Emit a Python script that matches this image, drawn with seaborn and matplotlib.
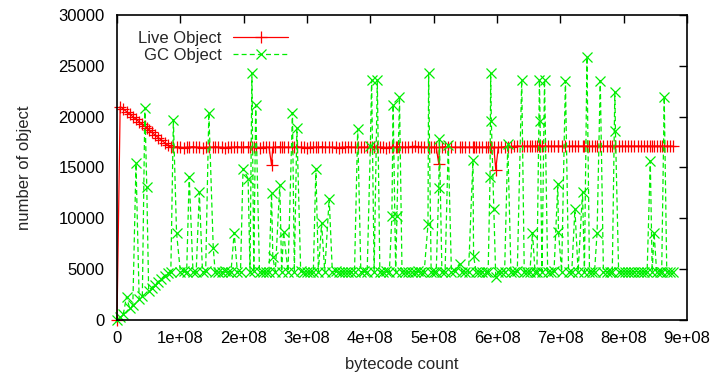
import matplotlib
matplotlib.use("Agg")
import matplotlib.pyplot as plt
import seaborn as sns
import pandas as pd

# bytecode count in units of 1e6 (rows of 10 aligned across the three lists)
bytecode_m = [
    0, 5, 10, 15, 20, 25, 30, 35, 40, 44,
    47, 50, 55, 60, 65, 70, 75, 80, 85,
    89, 94, 100, 105, 110, 114, 120, 125, 130, 135,
    140, 145, 152, 155, 160, 165, 170, 175, 180, 185,
    190, 195, 199, 207, 210, 213, 216, 219, 225, 230,
    235, 240, 244, 246, 250, 257, 260, 263, 270, 277,
    280, 284, 290, 295, 300, 305, 310, 314, 318, 323,
    328, 335, 340, 345, 350, 355, 360, 365, 370, 375,
    380, 385, 390, 395, 400, 402, 406, 411, 415, 420,
    425, 430, 434, 436, 440, 442, 446, 450, 455, 460,
    465, 470, 475, 480, 485, 491, 492, 496, 500, 504,
    508, 509, 513, 518, 523, 528, 533, 541, 545, 550,
    555, 562, 563, 567, 572, 577, 582, 586, 589, 590,
    591, 595, 598, 602, 607, 612, 617, 622, 627, 632,
    639, 643, 648, 652, 656, 660, 663, 667, 668, 671,
    675, 680, 685, 690, 696, 697, 702, 708, 713, 718,
    723, 728, 735, 738, 742, 746, 750, 754, 758, 763,
    768, 773, 778, 782, 786, 787, 792, 797, 802, 807,
    812, 817, 822, 827, 832, 837, 842, 845, 848, 852,
    857, 860, 864, 868, 873, 878]

live_object = [
    0, 21000, 20750, 20500, 20250, 20000, 19750, 19500, 19250, 19050,
    18900, 18700, 18450, 18200, 17950, 17700, 17450, 17200, 17000,
    17000, 17050, 17000, 16950, 17000, 17000, 17050, 17000, 17000, 16950,
    17000, 17000, 17000, 17050, 17000, 17000, 16950, 17000, 17000, 17000,
    17050, 17000, 17000, 17050, 17000, 17000, 17000, 17000, 16950, 17000,
    17000, 17000, 15250, 17000, 17000, 17050, 17000, 17000, 17000, 17000,
    17000, 17050, 17000, 17000, 16950, 17000, 17000, 17000, 17000, 17050,
    17000, 17000, 17000, 17000, 16950, 17000, 17000, 17050, 17000, 17000,
    17000, 17000, 17000, 17000, 17000, 17000, 17050, 17000, 17000, 17000,
    16950, 17000, 17000, 17000, 17000, 17000, 17050, 17000, 17000, 17000,
    17000, 17100, 17000, 17000, 17000, 17000, 17000, 17000, 17000, 17000,
    15350, 17000, 17000, 17050, 17000, 17000, 17000, 17000, 17000, 17000,
    17000, 17000, 17050, 17000, 17000, 17000, 17000, 17000, 17000, 17000,
    17000, 17000, 14800, 17000, 17000, 17050, 17000, 17050, 17100, 17100,
    17100, 17100, 17100, 17100, 17100, 17100, 17100, 17100, 17100, 17100,
    17100, 17100, 17100, 17100, 17100, 17100, 17100, 17100, 17100, 17100,
    17100, 17100, 17100, 17100, 17100, 17100, 17100, 17100, 17100, 17100,
    17100, 17100, 17100, 17100, 17100, 17100, 17100, 17100, 17100, 17100,
    17100, 17100, 17100, 17100, 17100, 17100, 17100, 17100, 17100, 17100,
    17100, 17100, 17100, 17100, 17100, 17100]

gc_object = [
    0, 290, 580, 2300, 1160, 1450, 15400, 2030, 2320, 20900,
    13100, 2900, 3190, 3480, 3770, 4060, 4350, 4640, 4750,
    19700, 8600, 4750, 4800, 4750, 14100, 4750, 4700, 12550, 4750,
    4800, 20400, 7050, 4750, 4750, 4700, 4800, 4750, 4750, 8600,
    4750, 4750, 14900, 13900, 4750, 24250, 4800, 21150, 4750, 4750,
    4700, 4750, 12500, 6200, 4750, 13300, 4750, 8700, 4750, 20400,
    4750, 18850, 4800, 4750, 4750, 4700, 4750, 14900, 4750, 9500,
    4750, 11950, 4750, 4800, 4750, 4750, 4700, 4750, 4750, 4750,
    18800, 4750, 4800, 4750, 17100, 23600, 4750, 23600, 4750, 4750,
    4800, 4750, 10200, 21150, 4750, 10200, 21950, 4750, 4750, 4700,
    4750, 4750, 4800, 4750, 4750, 9400, 24250, 4750, 4750, 4750,
    13000, 17800, 4750, 4750, 17200, 4750, 4800, 5550, 4750, 4750,
    4700, 15700, 6300, 4750, 4750, 4750, 4750, 4750, 14100, 24250,
    19600, 10950, 4200, 4750, 4750, 4750, 17300, 4750, 4750, 4800,
    23600, 4750, 4750, 4750, 8600, 4750, 4750, 23600, 19600, 4750,
    23600, 4750, 4750, 4800, 13400, 8700, 4750, 23550, 4750, 4750,
    10900, 4750, 12550, 4750, 25900, 4750, 4750, 4750, 8600, 23550,
    4750, 4750, 4750, 4750, 22400, 18550, 4750, 4750, 4750, 4750,
    4750, 4750, 4750, 4750, 4750, 4750, 15650, 4750, 8600, 4750,
    4750, 4750, 21950, 4750, 4750, 4750]

x_ticks = [0, 1e8, 2e8, 3e8, 4e8, 5e8, 6e8, 7e8, 8e8, 9e8]
x_tick_labels = ["0", "1e+08", "2e+08", "3e+08", "4e+08", "5e+08", "6e+08", "7e+08", "8e+08", "9e+08"]
y_ticks = [0, 5000, 10000, 15000, 20000, 25000, 30000]
y_tick_labels = ["0", "5000", "10000", "15000", "20000", "25000", "30000"]

df = pd.DataFrame({"x": [v * 1e6 for v in bytecode_m],
                   "live": live_object, "gc": gc_object})

sns.set_style("white")
plt.rcParams["font.family"] = ["Liberation Sans", "DejaVu Sans"]

fig = plt.figure(figsize=(7.2, 3.79), dpi=100)
ax = fig.add_axes([0.1625, 0.1557, 0.7917, 0.8047])

RED = "#ff0000"
GREEN = "#00ee00"
sns.lineplot(data=df, x="x", y="live", ax=ax, color=RED, estimator=None, sort=False,
             label="Live Object")
sns.lineplot(data=df, x="x", y="gc", ax=ax, color=GREEN, estimator=None, sort=False,
             label="GC Object")

styles = [("+", 8, "-"), ("x", 7, "--")]
for line, col, (mk, ms, ls) in zip(ax.lines[:2], [RED, GREEN], styles):
    line.set_linestyle(ls)
    line.set_linewidth(0.9)
    line.set_color(col)
    line.set_marker(mk)
    line.set_markersize(ms)
    line.set_markeredgewidth(0.9)
    line.set_markeredgecolor(col)
    line.set_markerfacecolor(col)
    line.set_clip_on(False)
ax.lines[1].set_dashes((4, 2.5))

ax.set_xlim(0, 9e8)
ax.set_ylim(0, 30000)
ax.set_xticks(x_ticks)
ax.set_xticklabels(x_tick_labels)
ax.set_yticks(y_ticks)
ax.set_yticklabels(y_tick_labels)
ax.tick_params(axis="both", direction="in", length=6, width=1, top=True, right=True,
               labelsize=12, colors="black")
ax.tick_params(axis="x", pad=8)
ax.tick_params(axis="y", pad=9)
for s in ax.spines.values():
    s.set_visible(True)
    s.set_color("black")
    s.set_linewidth(1.2)

ax.set_xlabel("bytecode count", fontsize=12, labelpad=8)
ax.set_ylabel("number of object", fontsize=12, labelpad=19)

leg = ax.legend(loc="upper left", bbox_to_anchor=(0.02, 0.98), frameon=False, fontsize=12,
                markerfirst=False, handlelength=3.3, handletextpad=0.7, labelspacing=0.12,
                numpoints=1, borderaxespad=0.2)
for h, col, (mk, ms, ls) in zip(leg.get_lines(), [RED, GREEN], styles):
    h.set_linestyle(ls)
    h.set_linewidth(0.9)
    h.set_color(col)
    h.set_marker(mk)
    h.set_markersize(ms)
    h.set_markeredgewidth(0.9)
    h.set_markeredgecolor(col)
leg.get_lines()[1].set_dashes((4, 2.5))
for col in leg._legend_handle_box.get_children():
    col.align = "right"

fig.savefig("out.png", dpi=100)
